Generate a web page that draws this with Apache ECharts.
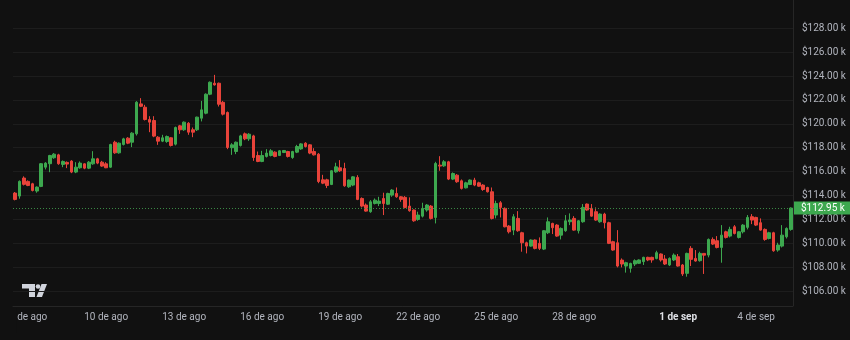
<!DOCTYPE html>
<html>
<head>
<meta charset="utf-8">
<script src="https://cdn.jsdelivr.net/npm/echarts@6/dist/echarts.min.js"></script>
<style>
  html, body { margin: 0; padding: 0; background: #111111; }
  #chart { width: 850px; height: 340px; }
</style>
</head>
<body>
<div id="chart"></div>
<script>
// 4-hour candles, BTC/USD in thousands of dollars, starting 6 Aug 2025 12:00
const startTime = Date.UTC(2025, 7, 6, 12, 0);
const stepHours = 4;

const openK = [
114.20,113.95,115.46,115.18,114.98,114.37,114.76,116.37,116.66,117.16,
117.40,116.60,116.77,116.88,115.96,116.32,116.65,116.29,116.65,117.07,
116.79,116.65,116.37,118.46,117.57,118.27,118.80,118.46,119.16,121.67,
121.39,120.36,120.28,118.88,118.55,118.52,118.83,118.30,119.83,119.50,
120.05,119.50,119.50,120.47,120.89,122.48,123.40,123.40,121.80,120.95,
118.00,117.68,118.19,119.16,118.74,118.99,117.35,116.85,117.27,117.35,
117.63,117.35,117.60,117.68,117.18,117.63,117.90,118.38,118.24,117.68,
117.46,115.31,115.31,114.92,115.98,116.32,116.26,114.73,114.87,115.51,
113.75,113.20,112.64,113.33,113.33,113.75,113.27,114.03,114.17,113.89,
113.84,113.11,112.78,111.99,112.27,112.78,113.11,112.16,116.54,116.48,
116.82,115.37,115.70,115.23,114.64,114.92,115.29,115.06,114.87,114.67,
114.31,112.36,113.39,112.92,111.44,111.10,112.08,110.88,110.04,109.76,
110.27,109.99,109.51,110.88,111.66,111.52,110.68,111.05,111.80,112.08,
111.05,111.80,113.28,112.92,112.64,111.80,112.44,111.72,110.13,110.04,
108.59,108.09,107.90,108.26,108.32,108.46,108.82,108.82,108.73,109.10,
108.68,108.18,108.60,108.87,108.18,107.48,109.57,108.73,108.54,109.15,
109.01,110.32,110.21,109.65,110.96,110.60,111.38,110.49,110.96,111.33,
112.22,112.16,111.72,111.16,110.40,110.88,109.43,109.76,110.54,111.16
];
const closeK = [
113.67,115.18,114.93,114.84,114.42,114.70,116.66,116.71,117.35,117.46,
116.66,116.85,116.63,115.96,116.37,116.71,116.29,116.79,117.07,116.71,
116.46,116.32,118.27,117.57,118.38,118.74,118.38,119.22,121.81,121.47,
120.36,120.14,118.97,118.55,118.83,118.94,118.19,119.69,119.50,120.14,
119.30,119.30,120.56,121.17,122.48,123.48,123.26,121.64,120.81,118.02,
118.24,118.46,118.99,118.74,119.13,117.18,116.85,117.35,117.55,117.74,
117.27,117.74,117.77,117.27,117.68,118.10,118.32,118.10,117.55,117.40,
115.17,115.03,114.84,116.07,116.40,116.07,114.81,115.29,115.56,113.67,
113.11,112.69,113.47,113.61,113.53,113.33,114.17,114.45,113.89,113.67,
113.00,112.72,111.88,112.36,112.92,113.20,112.08,116.68,116.46,116.82,
115.37,115.84,115.15,114.59,115.06,115.29,114.87,114.78,114.50,114.31,
112.08,113.33,113.00,111.38,110.96,112.22,111.05,110.04,109.76,110.27,
109.57,109.57,111.05,111.80,111.30,110.60,111.24,111.88,111.95,111.10,
111.88,113.00,112.78,112.27,111.94,112.44,111.72,109.99,109.43,108.09,
108.26,108.37,108.31,108.54,108.60,108.82,108.60,108.60,109.21,108.60,
108.26,108.73,109.01,108.09,107.43,109.15,108.65,108.51,109.15,109.00,
110.32,109.93,109.65,110.68,110.49,111.16,110.82,110.96,111.52,112.16,
111.94,111.52,111.10,110.32,110.88,109.37,109.85,110.68,111.24,112.95
];
const lowK = [
113.59,113.73,114.84,114.78,114.34,114.23,114.70,116.18,115.95,117.07,
116.57,116.37,116.29,115.87,115.87,116.24,116.20,116.21,116.57,116.62,
116.40,116.29,116.32,117.49,117.50,118.19,118.30,118.05,119.02,121.40,
120.28,119.30,118.88,118.24,118.47,118.41,118.10,118.19,119.16,119.41,
119.08,118.88,119.40,120.20,120.80,122.40,123.20,121.45,120.70,117.88,
117.40,117.46,118.10,118.63,118.57,116.90,116.79,116.79,117.18,117.27,
117.20,117.30,117.55,117.18,117.07,117.55,117.82,118.02,117.46,117.35,
115.03,114.95,114.62,114.87,115.90,115.98,114.73,114.64,114.78,113.61,
113.00,112.64,112.55,113.25,113.11,112.36,113.20,113.89,113.81,113.47,
112.92,112.64,111.80,111.88,112.16,112.64,111.99,111.66,116.07,116.40,
115.29,115.29,115.06,114.50,114.59,114.87,114.78,114.73,114.39,114.25,
111.99,112.08,112.16,111.33,110.82,110.68,110.96,109.29,109.15,109.71,
109.49,109.43,109.43,110.77,110.77,110.54,110.32,110.96,111.52,111.05,
110.82,111.72,112.72,112.22,111.88,111.72,111.24,109.93,109.37,107.98,
107.98,107.54,107.54,108.09,108.26,108.18,108.50,108.37,108.65,108.46,
108.18,108.09,108.51,108.04,107.26,107.20,108.09,108.46,108.46,107.43,
108.82,109.85,109.57,108.37,110.40,110.49,110.74,110.40,110.82,111.16,
111.60,111.44,111.05,110.21,110.32,109.29,109.29,109.65,110.40,111.05
];
const highK = [
114.29,115.26,115.60,115.26,115.06,114.76,116.72,116.79,117.40,117.55,
117.49,116.93,116.85,116.96,116.79,116.85,116.70,116.88,117.71,117.15,
116.90,116.79,118.33,118.58,118.44,118.83,118.88,119.30,121.90,122.15,
121.59,120.64,120.64,118.97,119.08,119.02,118.88,119.77,119.91,120.20,
120.14,119.69,120.60,121.92,122.55,123.55,124.10,123.45,121.92,121.03,
118.38,118.52,119.08,119.27,119.22,119.08,117.68,117.74,117.88,117.88,
117.70,117.80,117.80,117.74,117.74,118.24,118.38,118.46,118.30,117.96,
117.55,115.73,115.40,116.12,116.74,116.96,116.74,115.34,115.62,115.70,
113.84,113.33,113.61,113.75,113.89,114.23,114.23,114.53,114.67,113.95,
113.95,113.84,112.83,112.64,113.39,113.28,113.20,116.82,117.29,116.96,
116.90,115.93,115.79,115.34,115.15,115.34,115.48,115.15,114.95,114.73,
114.67,113.56,113.53,113.00,111.52,112.44,112.69,110.96,110.13,110.32,
110.32,110.49,111.10,112.16,111.72,111.60,111.33,112.36,112.50,112.27,
111.94,113.28,113.33,113.28,113.00,112.50,112.55,111.80,110.21,111.10,
108.73,108.45,108.37,108.65,108.65,108.87,108.87,108.87,109.37,109.15,
109.01,108.82,109.15,109.10,108.26,109.21,109.76,109.43,109.29,109.15,
110.40,110.49,110.60,111.52,111.05,111.38,111.52,111.00,111.60,112.36,
112.44,112.22,112.08,111.24,110.96,110.96,110.04,111.52,111.33,113.00
];

const tickDates = ['08-07','08-10','08-13','08-16','08-19','08-22','08-25','08-28','09-01','09-04'];
const tickLabels = ['7 de ago','10 de ago','13 de ago','16 de ago','19 de ago','22 de ago','25 de ago','28 de ago','1 de sep','4 de sep'];
const lastPriceK = 112.95;

const pad = n => String(n).padStart(2, '0');
const categories = openK.map((_, i) => {
  const d = new Date(startTime + i * stepHours * 3600 * 1000);
  return pad(d.getUTCMonth() + 1) + '-' + pad(d.getUTCDate()) + ' ' + pad(d.getUTCHours());
});
const tickMap = {};
tickDates.forEach((d, k) => { tickMap[d + ' 00'] = tickLabels[k]; });

const candleData = openK.map((o, i) => [o * 1000, closeK[i] * 1000, lowK[i] * 1000, highK[i] * 1000]);

const UP = '#3da84f';
const DOWN = '#e8433a';
const TXT = '#b2b5be';

const chart = echarts.init(document.getElementById('chart'), null, { renderer: 'canvas' });
chart.setOption({
  backgroundColor: '#111111',
  animation: false,
  grid: { left: 13, right: 57, top: 4.4, bottom: 25.1, containLabel: false },
  xAxis: {
    type: 'category',
    data: categories,
    boundaryGap: true,
    offset: -9,
    axisLine: { show: true, lineStyle: { color: '#262626', width: 1 } },
    axisTick: { show: false },
    splitLine: { show: false },
    axisLabel: {
      interval: 0,
      margin: 7,
      color: TXT,
      fontSize: 10,
      fontFamily: 'Roboto, "Noto Sans", sans-serif',
      formatter: v => {
        const t = tickMap[v];
        if (!t) return '';
        return t === '1 de sep' ? '{b|' + t + '}' : t;
      },
      rich: { b: { fontWeight: 'bold', color: '#dfe1e6', fontSize: 10, fontFamily: 'Roboto, "Noto Sans", sans-serif' } }
    }
  },
  yAxis: {
    type: 'value',
    position: 'right',
    min: 104000,
    max: 130000,
    interval: 2000,
    scale: true,
    axisLine: { show: false },
    axisTick: { show: false },
    splitLine: { show: true, showMinLine: false, showMaxLine: false, lineStyle: { color: '#1d1d1d', width: 1 } },
    axisLabel: {
      margin: 9,
      color: TXT,
      fontSize: 10,
      fontFamily: 'Roboto, "Noto Sans", sans-serif',
      formatter: v => (v <= 104000 || v >= 130000) ? '' : '$' + (v / 1000).toFixed(2) + ' k'
    }
  },
  series: [{
    type: 'candlestick',
    data: candleData,
    barWidth: 3,
    itemStyle: { color: UP, color0: DOWN, borderColor: UP, borderColor0: DOWN, borderWidth: 1 },
    markLine: {
      silent: true,
      symbol: ['none', 'none'],
      data: [{ yAxis: lastPriceK * 1000 }],
      lineStyle: { color: '#3a8a45', type: [1, 2], width: 1 },
      label: {
        show: true,
        position: 'end',
        distance: 1,
        formatter: '$' + lastPriceK.toFixed(2) + ' k',
        color: '#ffffff',
        backgroundColor: UP,
        padding: [2, 7, 1, 7],
        fontSize: 10,
        fontFamily: 'Roboto, "Noto Sans", sans-serif'
      }
    }
  }],
  graphic: [
    { type: 'line', z: 10, shape: { x1: 793.5, y1: 0, x2: 793.5, y2: 306 }, style: { stroke: '#262626', lineWidth: 1 } },
    { type: 'rect', z: 10, shape: { x: 0, y: 308, width: 16.5, height: 25 }, style: { fill: '#111111' } },
    { type: 'group', z: 10, children: [
      { type: 'polygon', shape: { points: [[22, 284], [35, 284], [35, 297], [29, 297], [29, 288.5], [22, 288.5]] }, style: { fill: '#d1d4dc' } },
      { type: 'circle', shape: { cx: 38, cy: 286.5, r: 2.3 }, style: { fill: '#d1d4dc' } },
      { type: 'polygon', shape: { points: [[41.5, 284], [47, 284], [42, 297], [36.5, 297]] }, style: { fill: '#d1d4dc' } }
    ]}
  ]
});
</script>
</body>
</html>
